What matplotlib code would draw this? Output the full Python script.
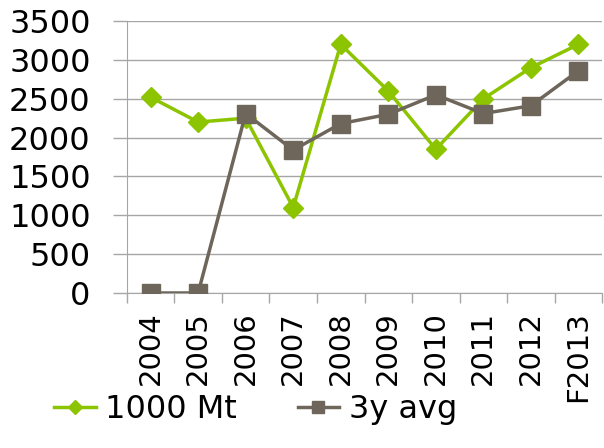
import matplotlib
matplotlib.use("Agg")
import matplotlib.pyplot as plt
import numpy as np

years = ["2004", "2005", "2006", "2007", "2008", "2009", "2010", "2011", "2012", "F2013"]
mt = [2520, 2200, 2250, 1100, 3200, 2600, 1850, 2500, 2900, 3200]
avg3 = [0, 0, 2310, 1840, 2180, 2300, 2550, 2310, 2410, 2860]

green = "#8CC400"
brown = "#6E665A"
grid = "#A6A6A6"

plt.rcParams["font.family"] = ["DejaVu Sans"]

fig = plt.figure(figsize=(6.04, 4.48), dpi=100)
ax = fig.add_axes([0.21, 0.346, 0.787, 0.607])

x = np.arange(len(years))
ax.plot(x, mt, color=green, lw=2.5, marker="D", ms=10, label="1000 Mt", zorder=3)
ax.plot(x, avg3, color=brown, lw=2.5, marker="s", ms=13, label="3y avg", zorder=4)

ax.set_ylim(0, 3500)
ax.set_yticks(np.arange(0, 3501, 500))
ax.set_xlim(-0.5, len(years) - 0.5)
ax.set_xticks(x)
ax.set_xticklabels(years, rotation=90, fontsize=21)
ax.set_xticks(np.arange(-0.5, len(years)), minor=True)
ax.tick_params(axis="x", which="major", length=0, pad=13)
ax.tick_params(axis="x", which="minor", length=7, color=grid, width=1)
ax.tick_params(axis="y", length=10, color=grid, width=1, labelsize=23, pad=16)

ax.grid(axis="y", color=grid, lw=1)
ax.set_axisbelow(True)
for s in ["top", "right"]:
    ax.spines[s].set_visible(False)
ax.spines["left"].set_color(grid)
ax.spines["bottom"].set_color(grid)

fig.legend(loc="center left", bbox_to_anchor=(0.063, 0.085), ncol=2, frameon=False,
           fontsize=23, handlelength=1.3, columnspacing=1.9, handletextpad=0.3,
           borderpad=0, markerscale=0.7)

fig.savefig("out.png", dpi=100)
